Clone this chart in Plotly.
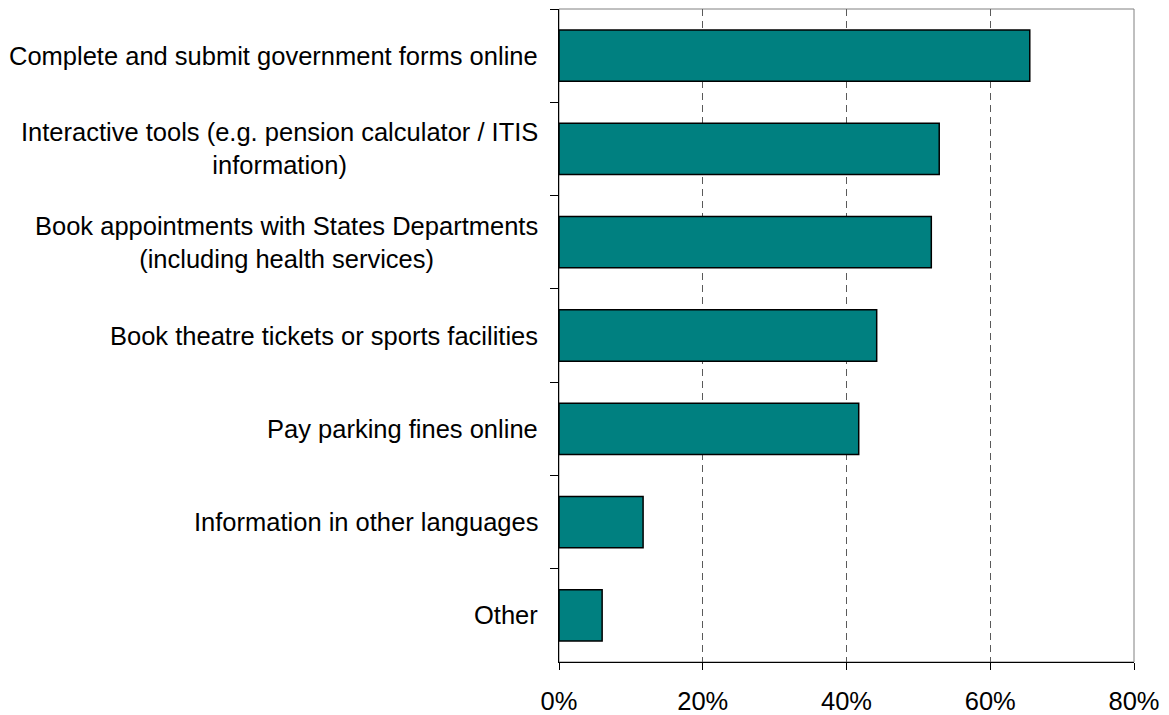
import plotly.graph_objects as go

# Survey: online services respondents would like to use (% of respondents)
categories = [
    "Complete and submit government forms online",
    "Interactive tools (e.g. pension calculator / ITIS<br>information)",
    "Book appointments with States Departments<br>(including health services)",
    "Book theatre tickets or sports facilities",
    "Pay parking fines online",
    "Information in other languages",
    "Other",
]
values = [65.5, 52.9, 51.8, 44.2, 41.7, 11.7, 6.0]
x_ticks = [0, 20, 40, 60, 80]
x_tick_labels = [f"{v}%" for v in x_ticks]

FONT = "Liberation Sans, Arial, sans-serif"
FONT_SIZE = 25.5
BAR_COLOR = "#008080"
GRID_COLOR = "#5a5a5a"

fig = go.Figure(
    go.Bar(
        x=values,
        y=categories,
        orientation="h",
        marker=dict(color=BAR_COLOR, line=dict(color="#000000", width=1.5)),
        hoverinfo="x+y",
    )
)

# Category labels as annotations so wrapped lines are centred on each other
for cat in categories:
    fig.add_annotation(
        x=0, xref="paper", y=cat, yref="y",
        text=cat, showarrow=False,
        xanchor="right", yanchor="middle", align="center",
        xshift=-19,
        font=dict(family=FONT, size=FONT_SIZE, color="#000000"),
    )

# Light frame around the plotting area
fig.add_shape(
    type="rect", xref="paper", yref="paper", x0=0, x1=1, y0=0, y1=1,
    line=dict(color="#808080", width=1), layer="below",
)

fig.update_layout(
    width=1169, height=715,
    margin=dict(l=559, r=35, t=9, b=53, autoexpand=False),
    paper_bgcolor="white", plot_bgcolor="white",
    bargap=0.45,
    showlegend=False,
    font=dict(family=FONT, size=FONT_SIZE, color="#000000"),
)

fig.update_xaxes(
    range=[0, 80],
    tickmode="array", tickvals=x_ticks, ticktext=x_tick_labels,
    showgrid=True, gridcolor=GRID_COLOR, gridwidth=1, griddash="7px,5px",
    zeroline=False,
    showline=True, linecolor="#000000", linewidth=1,
    ticks="outside", ticklen=7, tickcolor="#000000", tickwidth=1,
    ticklabelstandoff=9,
    automargin=False,
    tickfont=dict(family=FONT, size=FONT_SIZE, color="#000000"),
)

fig.update_yaxes(
    categoryorder="array", categoryarray=categories,
    autorange="reversed",
    showticklabels=False,
    tickson="boundaries",
    ticks="outside", ticklen=8, tickcolor="#000000", tickwidth=1,
    showgrid=False, zeroline=False,
    showline=True, linecolor="#000000", linewidth=1,
    automargin=False,
)

fig.write_html("out.html")
